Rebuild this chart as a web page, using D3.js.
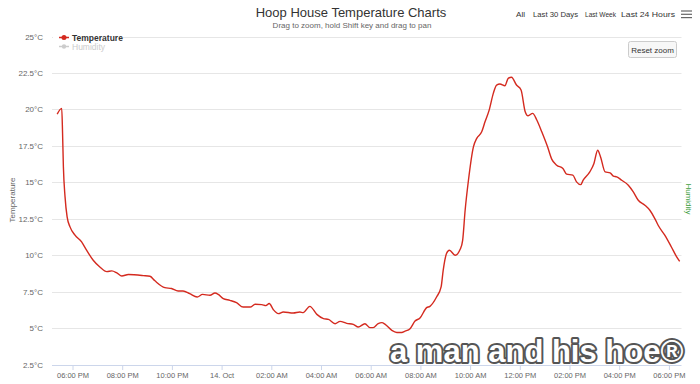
<!DOCTYPE html>
<html><head><meta charset="utf-8">
<script src="https://cdn.jsdelivr.net/npm/d3@7"></script>
<style>
html,body{margin:0;padding:0;background:#fff;}
svg{display:block;font-family:"Liberation Sans","DejaVu Sans",Arial,sans-serif;}
</style></head>
<body><svg id="chart" width="700" height="384"></svg>
<script>
// ---- data ----
const times = [
"2015-10-13 17:23","2015-10-13 17:34","2015-10-13 17:36","2015-10-13 17:38","2015-10-13 17:42","2015-10-13 17:47","2015-10-13 17:54",
"2015-10-13 18:06","2015-10-13 18:22","2015-10-13 18:34","2015-10-13 18:50","2015-10-13 19:06","2015-10-13 19:23","2015-10-13 19:35",
"2015-10-13 19:47","2015-10-13 19:59","2015-10-13 20:15","2015-10-13 20:51","2015-10-13 21:07","2015-10-13 21:19","2015-10-13 21:43",
"2015-10-13 21:59","2015-10-13 22:15","2015-10-13 22:27","2015-10-13 22:43","2015-10-13 23:01","2015-10-13 23:14","2015-10-13 23:32",
"2015-10-13 23:44","2015-10-13 23:52",
"2015-10-14 00:04","2015-10-14 00:20","2015-10-14 00:36","2015-10-14 00:52","2015-10-14 01:09","2015-10-14 01:21","2015-10-14 01:37",
"2015-10-14 01:47","2015-10-14 01:55","2015-10-14 02:05","2015-10-14 02:17","2015-10-14 02:29","2015-10-14 02:53","2015-10-14 03:09",
"2015-10-14 03:17","2015-10-14 03:33","2015-10-14 03:50","2015-10-14 04:06","2015-10-14 04:18","2015-10-14 04:34","2015-10-14 04:46",
"2015-10-14 05:02","2015-10-14 05:18","2015-10-14 05:30","2015-10-14 05:46","2015-10-14 05:58","2015-10-14 06:06","2015-10-14 06:18",
"2015-10-14 06:27","2015-10-14 06:35","2015-10-14 06:51","2015-10-14 07:03","2015-10-14 07:15","2015-10-14 07:23","2015-10-14 07:35",
"2015-10-14 07:47","2015-10-14 07:59","2015-10-14 08:15","2015-10-14 08:23","2015-10-14 08:39","2015-10-14 08:50","2015-10-14 08:55",
"2015-10-14 09:03","2015-10-14 09:10","2015-10-14 09:24","2015-10-14 09:36","2015-10-14 09:42","2015-10-14 09:48","2015-10-14 09:56",
"2015-10-14 10:08","2015-10-14 10:16","2015-10-14 10:28","2015-10-14 10:36","2015-10-14 10:46","2015-10-14 10:56","2015-10-14 11:04",
"2015-10-14 11:12","2015-10-14 11:24","2015-10-14 11:32","2015-10-14 11:40","2015-10-14 11:52","2015-10-14 12:03","2015-10-14 12:13",
"2015-10-14 12:20","2015-10-14 12:31","2015-10-14 12:41","2015-10-14 12:53","2015-10-14 13:07","2015-10-14 13:17","2015-10-14 13:29",
"2015-10-14 13:44","2015-10-14 13:53","2015-10-14 14:08","2015-10-14 14:17","2015-10-14 14:27","2015-10-14 14:33","2015-10-14 14:49",
"2015-10-14 14:59","2015-10-14 15:08","2015-10-14 15:15","2015-10-14 15:26","2015-10-14 15:38","2015-10-14 15:46","2015-10-14 15:54",
"2015-10-14 16:06","2015-10-14 16:22","2015-10-14 16:34","2015-10-14 16:46","2015-10-14 17:02","2015-10-14 17:14","2015-10-14 17:26",
"2015-10-14 17:34","2015-10-14 17:50","2015-10-14 18:06","2015-10-14 18:18","2015-10-14 18:26"
];
const temperature = [
19.68,20.07,18.37,16.06,14.0,12.62,11.94,
11.37,10.91,10.34,9.65,9.19,8.87,8.92,
8.78,8.57,8.67,8.60,8.55,8.24,7.77,
7.71,7.54,7.54,7.36,7.13,7.31,7.25,
7.40,7.31,
7.02,6.90,6.74,6.44,6.44,6.63,6.61,
6.54,6.68,6.26,5.99,6.10,6.03,6.10,
6.06,6.49,5.94,5.65,5.60,5.30,5.46,
5.32,5.25,5.07,5.30,5.03,5.03,5.30,
5.37,5.25,4.84,4.70,4.70,4.79,4.96,
5.48,5.69,6.40,6.49,7.13,7.82,8.96,
10.11,10.34,9.99,10.40,11.02,13.08,15.14,
17.43,18.01,18.46,19.15,19.95,21.10,21.67,
21.74,21.62,22.13,22.20,21.67,21.33,19.84,
19.56,19.73,19.27,18.46,17.43,16.59,16.17,
15.95,15.56,15.49,15.03,14.84,15.14,15.71,
16.29,17.20,16.74,15.71,15.65,15.42,15.37,
15.14,14.80,14.34,13.77,13.43,13.08,12.51,
12.05,11.37,10.56,9.92,9.58
];
const yTicks = [2.5,5,7.5,10,12.5,15,17.5,20,22.5,25];
const xTickTimes = ["2015-10-13 18:00","2015-10-13 20:00","2015-10-13 22:00","2015-10-14 00:00","2015-10-14 02:00","2015-10-14 04:00",
"2015-10-14 06:00","2015-10-14 08:00","2015-10-14 10:00","2015-10-14 12:00","2015-10-14 14:00","2015-10-14 16:00","2015-10-14 18:00"];
const xTickLabels = ["06:00 PM","08:00 PM","10:00 PM","14. Oct","02:00 AM","04:00 AM","06:00 AM","08:00 AM","10:00 AM","12:00 PM","02:00 PM","04:00 PM","06:00 PM"];
const xDomain = ["2015-10-13 17:10:30","2015-10-14 18:30:24"];
const rangeButtons = ["All","Last 30 Days","Last Week","Last 24 Hours"];
const seriesNames = ["Temperature","Humidity"];

// ---- drawing ----
const parse = d3.timeParse("%Y-%m-%d %H:%M");
const parseS = d3.timeParse("%Y-%m-%d %H:%M:%S");
const data = times.map((t,i)=>({t:parse(t), v:temperature[i]}));
const svg = d3.select("#chart");
const L = 52, R = 681.5, T = 36.5, B = 364.5;
const x = d3.scaleTime().domain(xDomain.map(parseS)).range([L,R]);
const y = d3.scaleLinear().domain([2.5,25]).range([B,T]);

// grid
svg.append("g").selectAll("line").data(yTicks.filter(d=>d>2.5)).join("line")
  .attr("x1",L).attr("x2",R).attr("y1",d=>Math.round(y(d))+0.5).attr("y2",d=>Math.round(y(d))+0.5)
  .attr("stroke","#e6e6e6").attr("stroke-width",1);

// y axis labels
const yAxis = d3.axisLeft(y).tickValues(yTicks).tickSize(0).tickPadding(0)
  .tickFormat(d=>d3.format("")(d)+"°C");
const gy = svg.append("g").attr("transform",`translate(43,0)`).call(yAxis);
gy.select(".domain").remove();
gy.selectAll("text").attr("font-size","8px").attr("fill","#666").attr("font-family","Liberation Sans, Arial, sans-serif");

// x axis
const xTicksParsed = xTickTimes.map(parse);
const xAxis = d3.axisBottom(x).tickValues(xTicksParsed).tickSize(5).tickPadding(3)
  .tickFormat((d,i)=>xTickLabels[i]);
const gx = svg.append("g").attr("transform",`translate(0,${B+0.5})`).call(xAxis);
gx.select(".domain").attr("stroke","#ccd6eb").attr("d",`M${L},0.5H${R}`);
gx.selectAll(".tick line").attr("stroke","#ccd6eb");
gx.selectAll("text").attr("font-size","7.5px").attr("fill","#666").attr("font-family","Liberation Sans, Arial, sans-serif");

// line
const line = d3.line().x(d=>x(d.t)).y(d=>y(d.v)).curve(d3.curveMonotoneX);
svg.append("path").datum(data).attr("d",line).attr("fill","none")
  .attr("stroke","#d42a1f").attr("stroke-width",1.4).attr("stroke-linejoin","round");

// axis titles
svg.append("text").attr("transform","translate(15,200) rotate(-90)").attr("text-anchor","middle")
  .attr("font-size","8px").attr("fill","#666").text("Temperature");
svg.append("text").attr("transform","translate(686,199) rotate(90)").attr("text-anchor","middle")
  .attr("font-size","8px").attr("fill","#3f9f3f").text("Humidity");

// legend
svg.append("rect").attr("x",53).attr("y",30).attr("width",70).attr("height",21).attr("fill","#fff");
svg.append("line").attr("x1",59).attr("x2",69).attr("y1",37.5).attr("y2",37.5).attr("stroke","#d42a1f").attr("stroke-width",1.5);
svg.append("circle").attr("cx",64).attr("cy",37.5).attr("r",2.5).attr("fill","#d42a1f");
svg.append("text").attr("x",72).attr("y",40.5).attr("font-size","8.5px").attr("font-weight","bold").attr("fill","#333").text(seriesNames[0]);
svg.append("line").attr("x1",59).attr("x2",69).attr("y1",46.5).attr("y2",46.5).attr("stroke","#ccc").attr("stroke-width",1.5);
svg.append("circle").attr("cx",64).attr("cy",46.5).attr("r",2.2).attr("fill","#ccc");
svg.append("text").attr("x",72).attr("y",49.5).attr("font-size","8.5px").attr("fill","#ccc").text(seriesNames[1]);

// title
svg.append("text").attr("x",351).attr("y",16.5).attr("text-anchor","middle").attr("font-size","13px").attr("fill","#333")
  .text("Hoop House Temperature Charts");
svg.append("text").attr("x",352).attr("y",28).attr("text-anchor","middle").attr("font-size","8px").attr("fill","#666")
  .text("Drag to zoom, hold Shift key and drag to pan");

// range buttons
const btnX = [516,533,585,621];
const btnW = [9,45,31,54];
svg.append("g").selectAll("text").data(rangeButtons).join("text")
  .attr("x",(d,i)=>btnX[i]).attr("y",17).attr("font-size","7.5px").attr("fill","#333")
  .attr("textLength",(d,i)=>btnW[i]).attr("lengthAdjust","spacingAndGlyphs").text(d=>d);
// hamburger
svg.append("g").selectAll("line").data([0,1,2]).join("line")
  .attr("x1",681).attr("x2",692).attr("y1",d=>11+d*3.3).attr("y2",d=>11+d*3.3)
  .attr("stroke","#666").attr("stroke-width",1.2);

// reset zoom
svg.append("rect").attr("x",628.5).attr("y",41.5).attr("width",48).attr("height",16).attr("rx",2)
  .attr("fill","#f7f7f7").attr("stroke","#ccc");
svg.append("text").attr("x",652.5).attr("y",52.5).attr("text-anchor","middle").attr("font-size","8px").attr("fill","#333").text("Reset zoom");

// watermark
svg.append("text").attr("x",390).attr("y",362).attr("font-size","31px").attr("font-weight","bold")
  .attr("font-family","Liberation Sans, Arial, sans-serif")
  .attr("fill","#fff").attr("stroke","#555").attr("stroke-width",4).attr("stroke-linejoin","round")
  .attr("paint-order","stroke")
  .text("a man and his hoe®");
</script></body></html>
